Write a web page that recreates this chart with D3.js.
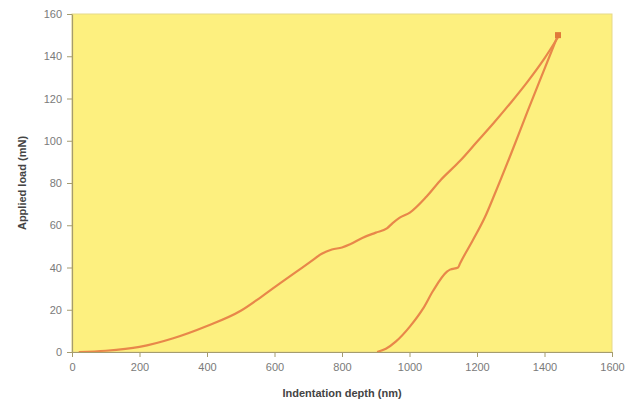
<!DOCTYPE html>
<html>
<head>
<meta charset="utf-8">
<script src="https://cdn.jsdelivr.net/npm/d3@7"></script>
<style>
  body { margin: 0; background: #fff; }
  text { font-family: "Liberation Sans", Arial, sans-serif; }
</style>
</head>
<body>
<svg id="chart" width="630" height="408"></svg>
<script>
// loading branch: depth (nm), load (mN)
const loadDepth = [20, 100, 200, 300, 400, 500, 560, 616, 660, 705, 740, 770, 800, 824, 860, 900, 933, 950, 970, 1001, 1050, 1090, 1150, 1200, 1250, 1300, 1350, 1400, 1440];
const loadForce = [0, 0.6, 2.4, 6.5, 12.3, 19.5, 26, 32.5, 37.5, 42.5, 46.5, 48.5, 49.5, 51, 54, 56.5, 58.5, 61, 63.5, 66, 73.5, 81, 90.5, 99.5, 108.5, 118, 128, 139, 149];
// unloading branch
const unloadDepth = [1440, 1400, 1350, 1300, 1248, 1224, 1188, 1150, 1144, 1120, 1111, 1070, 1040, 1001, 960, 930, 904];
const unloadForce = [150, 134, 114, 93.5, 73, 64, 53, 42, 40, 39, 38, 29, 20.5, 12, 5, 1.5, 0];

const xTicks = [0, 200, 400, 600, 800, 1000, 1200, 1400, 1600];
const yTicks = [0, 20, 40, 60, 80, 100, 120, 140, 160];

const margin = {top: 14, right: 18, bottom: 56, left: 72};
const width = 630 - margin.left - margin.right;
const height = 408 - margin.top - margin.bottom;

const svg = d3.select('#chart');
const g = svg.append('g')
    .attr('transform', 'translate(' + margin.left + ',' + margin.top + ')');

const x = d3.scaleLinear().domain([0, 1600]).range([0, width]);
const y = d3.scaleLinear().domain([0, 160]).range([height, 0]);

g.append('rect')
    .attr('width', width)
    .attr('height', height)
    .attr('fill', '#fdf07f')
    .attr('stroke', '#e6d98a')
    .attr('stroke-width', 1);

const line = d3.line()
    .x(function(d) { return x(d[0]); })
    .y(function(d) { return y(d[1]); })
    .curve(d3.curveMonotoneX);

const loading = d3.zip(loadDepth, loadForce);
const unloading = d3.zip(unloadDepth, unloadForce).reverse();

[loading, unloading].forEach(function(pts) {
    g.append('path')
        .datum(pts)
        .attr('fill', 'none')
        .attr('stroke', '#e8874a')
        .attr('stroke-width', 2.2)
        .attr('d', line);
});

// small marker at peak
g.append('rect')
    .attr('x', x(1440) - 3)
    .attr('y', y(150) - 3)
    .attr('width', 6)
    .attr('height', 6)
    .attr('fill', '#e07a3a');

const fmt = d3.format('d');

const xAxis = g.append('g')
    .attr('transform', 'translate(0,' + height + ')')
    .call(d3.axisBottom(x).tickValues(xTicks).tickFormat(fmt).tickSize(5).tickSizeOuter(0).tickPadding(6));

const yAxis = g.append('g')
    .call(d3.axisLeft(y).tickValues(yTicks).tickFormat(fmt).tickSize(5).tickSizeOuter(0).tickPadding(5));

[xAxis, yAxis].forEach(function(ax) {
    ax.select('.domain').attr('stroke', '#a59c6e').attr('stroke-width', 1.2);
    ax.selectAll('.tick line').attr('stroke', '#a59c6e');
    ax.selectAll('.tick text')
        .attr('fill', '#7a7a7a')
        .style('font-size', '11px');
});

svg.append('text')
    .attr('x', margin.left + width / 2)
    .attr('y', 397)
    .attr('text-anchor', 'middle')
    .attr('fill', '#444')
    .style('font-size', '11px')
    .style('font-weight', 'bold')
    .text('Indentation depth (nm)');

svg.append('text')
    .attr('transform', 'translate(26,' + (margin.top + height / 2) + ') rotate(-90)')
    .attr('text-anchor', 'middle')
    .attr('fill', '#444')
    .style('font-size', '11px')
    .style('font-weight', 'bold')
    .text('Applied load (mN)');
</script>
</body>
</html>
